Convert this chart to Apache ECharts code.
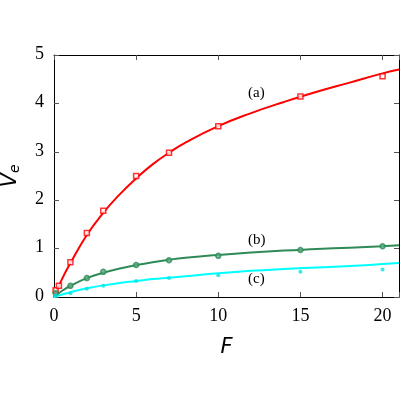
<!DOCTYPE html>
<html>
<head>
<meta charset="utf-8">
<script src="https://cdn.jsdelivr.net/npm/echarts@6/dist/echarts.min.js"></script>
<style>
  html, body { margin: 0; padding: 0; background: #fff; }
  #main { width: 400px; height: 400px; }
</style>
</head>
<body>
<div id="main"></div>
<script>
let ptsX_a = [0.1, 0.3, 1, 2, 3, 5, 7, 10, 15, 20];
let ptsY_a = [0.14, 0.23, 0.72, 1.32, 1.78, 2.50, 2.98, 3.53, 4.14, 4.56];
let ptsX_b = [0.1, 1, 2, 3, 5, 7, 10, 15, 20];
let ptsY_b = [0.08, 0.23, 0.39, 0.52, 0.66, 0.76, 0.85, 0.97, 1.05];
let ptsX_c = [0.1, 1, 2, 3, 5, 7, 10, 15, 20];
let ptsY_c = [0.03, 0.08, 0.17, 0.23, 0.33, 0.39, 0.45, 0.52, 0.57];

// fitted curves
let fitX   = [0, 0.5, 1, 2, 3, 4, 5, 6, 7, 8, 10, 12, 14, 16, 18, 20, 21];
let fitY_a = [0, 0.38, 0.70, 1.28, 1.74, 2.12, 2.45, 2.74, 2.98, 3.19, 3.53, 3.80, 4.03, 4.24, 4.43, 4.62, 4.70];
let fitY_b = [0, 0.13, 0.23, 0.39, 0.50, 0.59, 0.66, 0.72, 0.77, 0.81, 0.87, 0.92, 0.96, 0.99, 1.02, 1.05, 1.07];
let fitY_c = [0, 0.05, 0.10, 0.18, 0.24, 0.29, 0.33, 0.37, 0.40, 0.43, 0.49, 0.54, 0.58, 0.61, 0.64, 0.68, 0.70];

// tick labels
let xTicks = [0, 5, 10, 15, 20];
let yTicks = [0, 1, 2, 3, 4, 5];

function pairs(xs, ys){
  let out = [];
  for (let i = 0; i < xs.length; i++) out.push([xs[i], ys[i]]);
  return out;
}

let sans = 'DejaVu Sans';
let tick = { show: true, inside: true, length: 5, lineStyle: { color: '#555' } };
let line = { show: true, onZero: false, lineStyle: { color: '#000', width: 1 } };

let myChart = echarts.init(document.getElementById('main'));
let option = {
  animation: false,
  grid: { left: 54, right: 1, top: 55, bottom: 103, outerBoundsMode: 'none', containLabel: false },
  xAxis: [
    {
      type: 'value', min: 0, max: 21, interval: 5,
      axisLine: line, axisTick: tick, splitLine: { show: false },
      axisLabel: { show: false },
      name: 'F', nameLocation: 'middle', nameGap: 40,
      nameTextStyle: { fontFamily: sans, fontStyle: 'italic', fontSize: 21, color: '#000' }
    },
    {
      type: 'value', position: 'top', min: 0, max: 21, interval: 5,
      axisLine: line, axisTick: tick, axisLabel: { show: false }, splitLine: { show: false }
    }
  ],
  yAxis: [
    {
      type: 'value', min: 0, max: 5, interval: 1,
      axisLine: line, axisTick: tick, splitLine: { show: false },
      axisLabel: { show: false },
      name: '{v|V}{s|e}', nameLocation: 'middle', nameGap: 32, nameRotate: 90,
      nameTextStyle: {
        rich: {
          v: { fontFamily: sans, fontStyle: 'italic', fontSize: 21, color: '#000' },
          s: { fontFamily: sans, fontStyle: 'italic', fontSize: 14, color: '#000', padding: [8, 0, 0, 0] }
        }
      }
    },
    {
      type: 'value', position: 'right', min: 0, max: 5, interval: 1,
      axisLine: line, axisTick: tick, axisLabel: { show: false }, splitLine: { show: false }
    }
  ],
  series: [
    { type: 'line', data: pairs(fitX, fitY_a), smooth: true, symbol: 'none',
      lineStyle: { color: '#ff0000', width: 2 }, z: 2 },
    { type: 'line', data: pairs(fitX, fitY_b), smooth: true, symbol: 'none',
      lineStyle: { color: '#2e8b57', width: 2 }, z: 2 },
    { type: 'line', data: pairs(fitX, fitY_c), smooth: true, symbol: 'none',
      lineStyle: { color: '#00ffff', width: 2 }, z: 2 },
    { type: 'scatter', data: pairs(ptsX_a, ptsY_a), symbol: 'rect', symbolSize: 5,
      itemStyle: { color: '#fff', borderColor: '#ff0000', borderWidth: 1.5 }, z: 3 },
    { type: 'scatter', data: pairs(ptsX_b, ptsY_b), symbol: 'circle', symbolSize: 5,
      itemStyle: { color: '#5fae84', borderColor: '#2e8b57', borderWidth: 1.5 }, z: 3 },
    { type: 'scatter', data: pairs(ptsX_c, ptsY_c), symbol: 'circle', symbolSize: 4,
      itemStyle: { color: '#00e5e5' }, z: 3 }
  ]
};
myChart.setOption(option);

// curve labels, and serif tick labels placed through the chart's own axes
let graphics = [
  { type: 'text', left: 248, top: 86, style: { text: '(a)', font: "15px 'Liberation Serif'", fill: '#000' } },
  { type: 'text', left: 248, top: 233, style: { text: '(b)', font: "15px 'Liberation Serif'", fill: '#000' } },
  { type: 'text', left: 248, top: 272, style: { text: '(c)', font: "15px 'Liberation Serif'", fill: '#000' } }
];
xTicks.forEach(function(v){
  let px = myChart.convertToPixel({ xAxisIndex: 0 }, v);
  let py = myChart.convertToPixel({ yAxisIndex: 0 }, 0);
  graphics.push({ type: 'text', left: px - (String(v).length * 9) / 2, top: py + 10,
    style: { text: String(v), font: "18px 'Liberation Serif'", fill: '#000' } });
});
yTicks.forEach(function(v){
  let px = myChart.convertToPixel({ xAxisIndex: 0 }, 0);
  let py = myChart.convertToPixel({ yAxisIndex: 0 }, v);
  graphics.push({ type: 'text', left: px - 19, top: py - 10,
    style: { text: String(v), font: "18px 'Liberation Serif'", fill: '#000' } });
});
myChart.setOption({ graphic: graphics });
</script>
</body>
</html>
